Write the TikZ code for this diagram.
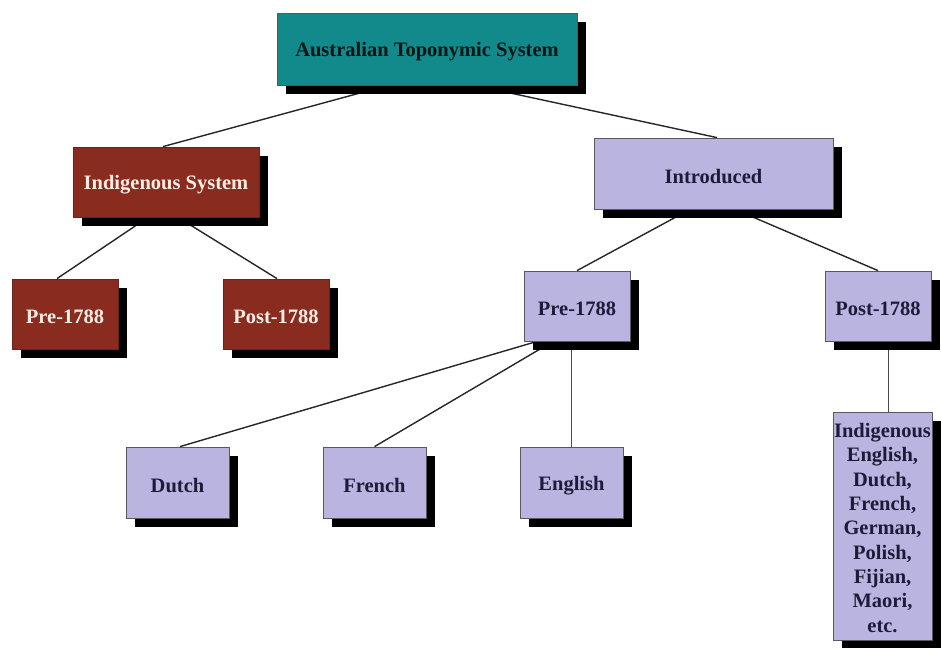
\documentclass[tikz,border=0pt]{standalone}
\usepackage{fontspec}
\setmainfont{Liberation Serif}
\usetikzlibrary{shadows,backgrounds}
\definecolor{tealbox}{HTML}{12898A}
\definecolor{redbox}{HTML}{8A2B20}
\definecolor{lavbox}{HTML}{BAB5E0}
\definecolor{navytext}{HTML}{1E1B3A}
\definecolor{creamtext}{HTML}{F7EEE4}
\newcommand{\lowr}[1]{\raisebox{-3pt}[\height][\depth]{#1}}
\tikzstyle{BX}=[rectangle,draw=black!65,line width=0.8pt,inner sep=2pt,
  font=\fontsize{20.5}{24.3}\selectfont\bfseries,
  drop shadow={shadow xshift=9pt,shadow yshift=-9pt,fill=black,opacity=1}]
\tikzstyle{TL}=[BX,fill=tealbox,text=black!85!tealbox]
\tikzstyle{RD}=[BX,fill=redbox,draw=redbox!80!black,text=creamtext]
\tikzstyle{LV}=[BX,fill=lavbox,text=navytext]
\tikzstyle{LN}=[line width=1.4pt,black!85]

\begin{document}
\begin{tikzpicture}[x=1pt,y=-1pt]
    \useasboundingbox (0,0) rectangle (941,647);

    \node[TL,minimum width=300pt,minimum height=72pt] (top) at (427,49) {\lowr{Australian Toponymic System}};

    \node[RD,minimum width=186pt,minimum height=70pt] (ind) at (166,182) {\lowr{Indigenous System}};
    \node[RD,minimum width=106pt,minimum height=70pt] (indpre) at (65,314) {\lowr{Pre-1788}};
    \node[RD,minimum width=106pt,minimum height=70pt] (indpost) at (276,314) {\lowr{Post-1788}};

    \node[LV,minimum width=239pt,minimum height=71pt] (intro) at (713.5,173.5) {\lowr{Introduced}};
    \node[LV,minimum width=106pt,minimum height=70pt] (intpre) at (577,306) {\lowr{Pre-1788}};
    \node[LV,minimum width=106pt,minimum height=70pt] (intpost) at (878,306) {\lowr{Post-1788}};

    \node[LV,minimum width=103pt,minimum height=71pt] (dutch) at (177.5,482.5) {\lowr{Dutch}};
    \node[LV,minimum width=103pt,minimum height=71pt] (french) at (374.5,482.5) {\lowr{French}};
    \node[LV,minimum width=103pt,minimum height=71pt] (english) at (571.5,482.5) {\lowr{English}};
    \node[LV,minimum width=99pt,minimum height=228pt,inner sep=0pt] (others) at (882.5,526)
        {\raisebox{-4pt}[\height][\depth]{\begin{tabular}{@{}c@{}}Indigenous\\English,\\Dutch,\\French,\\German,\\Polish,\\Fijian,\\Maori,\\etc.\end{tabular}}};

    \begin{pgfonlayer}{background}
        \draw[LN] ([xshift=-39pt]top.south) -- ([xshift=-3pt]ind.north);
        \draw[LN] ([xshift=48pt]top.south) -- ([xshift=3.5pt]intro.north);
        \draw[LN] ([xshift=-18pt]ind.south) -- ([xshift=-8pt]indpre.north);
        \draw[LN] ([xshift=12pt]ind.south) -- ([xshift=1pt]indpost.north);
        \draw[LN] ([xshift=-23.5pt]intro.south) -- (intpre.north);
        \draw[LN] ([xshift=21.5pt]intro.south) -- (intpost.north);
        \draw[LN] ([xshift=-40pt]intpre.south) -- ([xshift=2.5pt]dutch.north);
        \draw[LN] ([xshift=-24pt]intpre.south) -- (french.north);
        \draw[LN,line width=1pt,black!70] ([xshift=-6pt]intpre.south) -- ([xshift=-0.5pt]english.north);
        \draw[LN,line width=1pt,black!70] ([xshift=10pt]intpost.south) -- ([xshift=5.5pt]others.north);
    \end{pgfonlayer}
\end{tikzpicture}
\end{document}
